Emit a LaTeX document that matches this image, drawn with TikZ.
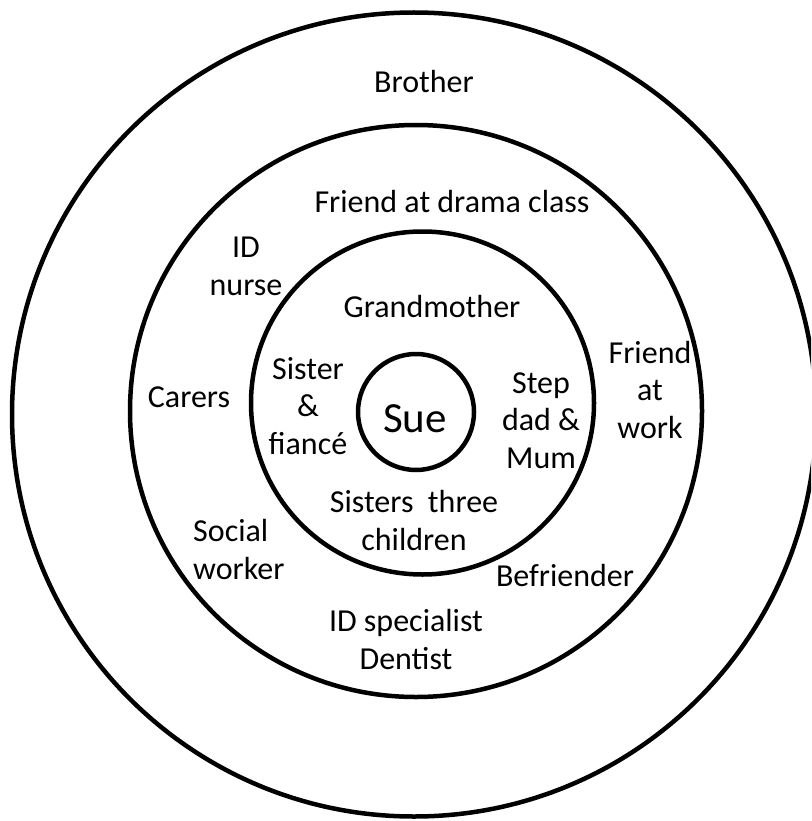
\documentclass[tikz,border=0pt]{standalone}
\usepackage{fontspec}
\setmainfont{Carlito}
\begin{document}
\begin{tikzpicture}[x=1pt,y=-1pt,
  ring/.style={circle, draw, line width=4.5pt, inner sep=0pt},
  lbl/.style={font=\fontsize{32}{37.5}\selectfont, align=center, anchor=base, inner sep=0pt}]
\useasboundingbox (0,0) rectangle (811,821);
\clip (0,0) rectangle (811,821);
\node[ring, minimum size=804pt] (outer) at (414,414.5) {};
\node[ring, minimum size=572pt] (middle) at (416,411) {};
\node[ring, minimum size=343pt] (inner) at (422.5,403) {};
\node[ring, minimum size=116pt] (core) at (416,412) {};
\node[lbl] (brother) at (424,93) {Brother};
\node[lbl] (drama) at (452,212) {Friend at drama class};
\node[lbl] (nurse) at (246,295) {ID\\nurse};
\node[lbl] (grand) at (432,317) {Grandmother};
\node[lbl] (work) at (650,438) {Friend\\at\\work};
\node[lbl] (carers) at (189,407) {Carers};
\node[lbl] (sister) at (308,454) {Sister\\\&\\fiancé};
\node[lbl, font=\fontsize{43}{50}\selectfont] (sue) at (415,432) {Sue};
\node[lbl] (step) at (541,468) {Step\\dad \&\\Mum};
\node[lbl] (sisters) at (414,550) {Sisters\ \ three\\children};
\node[lbl, align=left, anchor=base west] (social) at (193,579) {Social\\worker};
\node[lbl] (befr) at (565,586) {Befriender};
\node[lbl] (spec) at (406,669) {ID specialist\\Dentist};
\end{tikzpicture}
\end{document}
